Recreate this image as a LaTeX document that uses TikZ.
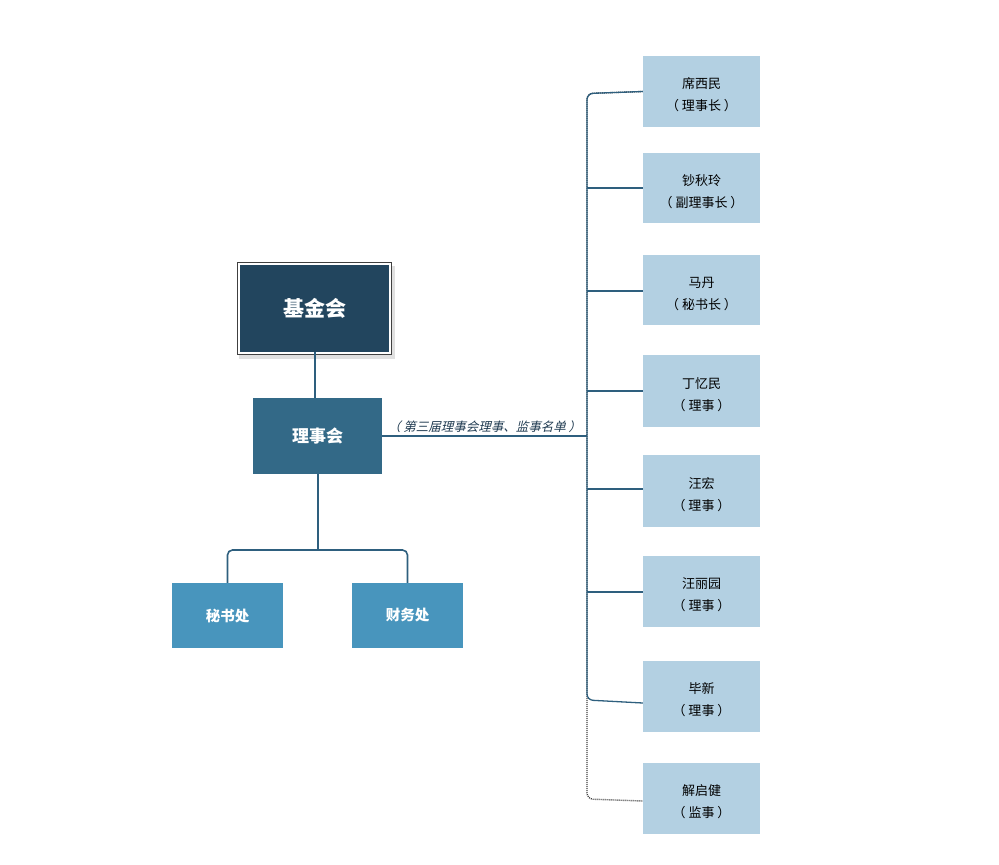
\documentclass[tikz,border=0pt]{standalone}
\usepackage{fontspec}
\setmainfont{Noto Sans CJK SC}
\newfontfamily\cjkit{Noto Sans CJK SC}[FakeSlant=0.25]
\definecolor{topfill}{HTML}{22455E}
\definecolor{midfill}{HTML}{336987}
\definecolor{lowfill}{HTML}{4895BD}
\definecolor{rbfill}{HTML}{B3D0E2}
\definecolor{linec}{HTML}{2E5F7E}
\definecolor{labc}{HTML}{1F3A50}
\newcommand\tup{\rule{0pt}{17.5pt}}
\begin{document}
\begin{tikzpicture}[x=1pt,y=-1pt,
  lnk/.style={draw=linec, line width=1.6pt},
  dotlnk/.style={draw=black!75, line width=1.4pt, dash pattern=on 1pt off 1pt},
  rbox/.style={fill=rbfill, minimum width=117pt, minimum height=71pt, inner sep=0pt, align=center, text=black, font=\fontsize{13}{22}\selectfont},
  lbox/.style={fill=lowfill, minimum width=111pt, minimum height=65pt, inner sep=0pt, text=white, font=\fontsize{14.5}{18}\selectfont\bfseries}]
\useasboundingbox (0,0) rectangle (999,865);
% top box with shadow and frame
\fill[black!12] (239,266) rectangle (395,359);
\fill[white] (237,262) rectangle (392,355);
\node[fill=topfill, minimum width=149pt, minimum height=87pt, inner sep=0pt, text=white, font=\fontsize{21}{24}\selectfont\bfseries] (jjh) at (314.5,308.5) {基金会};
\draw[black!75, line width=0.9pt] ([shift={(-2.5,-2.5)}]jjh.north west) rectangle ([shift={(2.5,2.5)}]jjh.south east);
% council
\node[fill=midfill, minimum width=129pt, minimum height=76pt, inner sep=0pt, text=white, font=\fontsize{17}{20}\selectfont\bfseries] (lsh) at (317.5,436) {理事会};
\node[lbox] (msc) at (227.5,615.5) {秘书处};
\node[lbox] (cwc) at (407.5,615.5) {财务处};
% right boxes
\node[rbox] (r1) at (701.5,91.5) {\tup 席西民\\（ 理事长 ）};
\node[rbox, minimum height=70pt] (r2) at (701.5,188) {\tup 钞秋玲\\（ 副理事长 ）};
\node[rbox, minimum height=70pt] (r3) at (701.5,290) {\tup 马丹\\（ 秘书长 ）};
\node[rbox, minimum height=72pt] (r4) at (701.5,391) {\tup 丁忆民\\（ 理事 ）};
\node[rbox, minimum height=72pt] (r5) at (701.5,491) {\tup 汪宏\\（ 理事 ）};
\node[rbox] (r6) at (701.5,591.5) {\tup 汪丽园\\（ 理事 ）};
\node[rbox] (r7) at (701.5,696.5) {\tup 毕新\\（ 理事 ）};
\node[rbox] (r8) at (701.5,798.5) {\tup 解启健\\（ 监事 ）};
% connectors
\coordinate (topx) at (315,0);
\draw[lnk] (jjh.south -| topx) -- (lsh.north -| topx);
\coordinate (split) at (318,550);
\draw[lnk] (lsh.south -| split) -- (split);
\draw[lnk, rounded corners=5pt] (msc.north) |- (split) -| (cwc.north);
\coordinate (bar) at (587,0);
\draw[lnk] (lsh.east) -- node[above=-1pt, text=labc, font=\fontsize{12.5}{14}\selectfont\cjkit] {（ 第三届理事会理事、监事名单 ）} (lsh.east -| bar);
% bracket
\draw[dotlnk, rounded corners=6pt] (r1.west) -- ([yshift=-2]r1.west -| bar) -- ([yshift=-0.5]r8.west -| bar) -- ([yshift=-2.5]r8.west);
\draw[lnk, line width=1.3pt, rounded corners=6pt] (r1.west) -- ([yshift=-2]r1.west -| bar) -- ([yshift=-3.5]r7.west -| bar) -- ([yshift=-6.5]r7.west);
\foreach \n/\dy in {r2/0,r3/-1,r4/0,r5/2,r6/-0.5}{
  \draw[lnk, line width=1.2pt] ([yshift=\dy]\n.west) -- ([yshift=\dy]\n.west -| bar);
}
\end{tikzpicture}
\end{document}
